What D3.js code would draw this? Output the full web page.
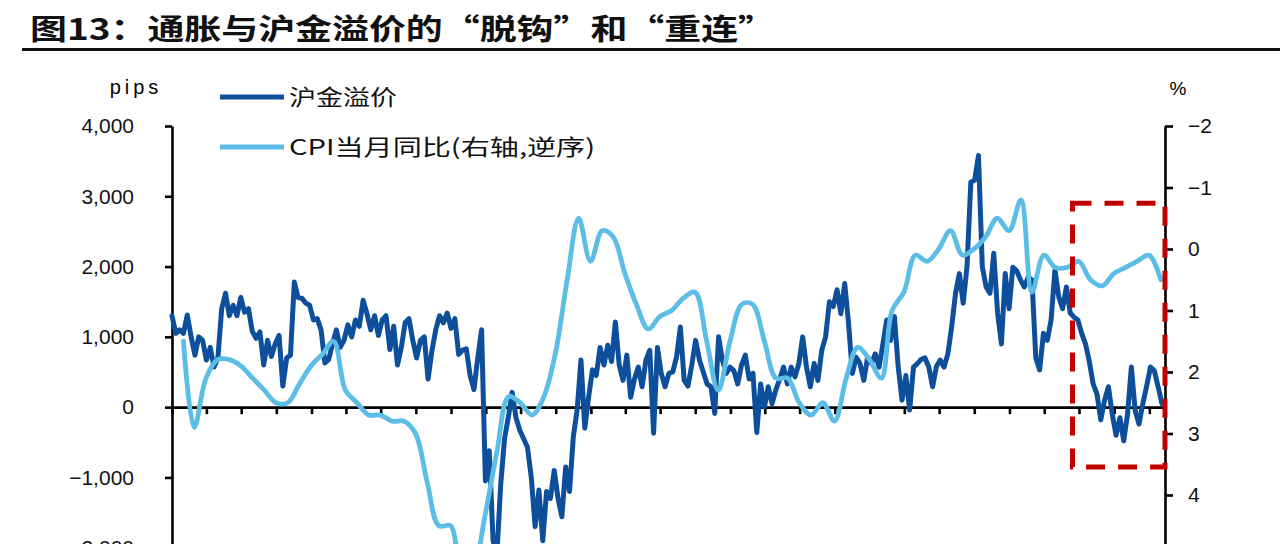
<!DOCTYPE html>
<html>
<head>
<meta charset="utf-8">
<script src="https://cdn.jsdelivr.net/npm/d3@7"></script>
<style>
  body { margin: 0; background: #fff; overflow: hidden; }
  svg { display: block; }
</style>
</head>
<body>
<div id="chart"></div>
<script>
// ---- data ----
const title = '图13：通胀与沪金溢价的“脱钩”和“重连”';
const seriesNames = ['沪金溢价', 'CPI当月同比(右轴,逆序)'];

// 沪金溢价 (pips), one reading every 10 days from 2018-01-01
const premiumStart = '2018-01-01';
const premiumStepDays = 10;
const premium = [
  1300, 1050, 1100, 1050, 1310, 1000, 740, 1000, 950, 670,
  850, 570, 700, 1400, 1620, 1300, 1450, 1300, 1560, 1350,
  1400, 1080, 980, 1070, 600, 950, 720, 900, 1020, 300,
  700, 740, 1780, 1560, 1550, 1480, 1450, 1240, 1260, 1100,
  630, 680, 900, 1100, 850, 950, 1170, 1000, 1240, 1150,
  1520, 1330, 1100, 1300, 1020, 1240, 1300, 820, 1150, 600,
  850, 1200, 1260, 950, 700, 950, 1000, 400, 800, 1100,
  1300, 1200, 1340, 1120, 1260, 750, 810, 830, 450, 250,
  700, 1100, -1050, -620, -1900, -2100, -1100, -450, -140, 210,
  -150, -330, -450, -570, -1000, -1700, -1180, -1900, -1200, -1300,
  -900, -1300, -1560, -850, -1200, -420, -40, 670, -300, 140,
  530, 450, 850, 600, 880, 650, 1210, 600, 380, 740,
  140, 400, 570, 290, 670, 810, -370, 850, 480, 290,
  480, 500, 710, 1140, 380, 300, 600, 950, 670, 500,
  330, 290, -90, 1000, 670, 480, 570, 520, 330, 600,
  740, 400, 480, -360, 330, 0, 290, 50, 250, 400,
  570, 330, 570, 430, 620, 1000, 570, 290, 620, 380,
  810, 1000, 1500, 1430, 1670, 1330, 1760, 1200, 480, 710,
  620, 380, 710, 620, 760, 570, 900, 1240, 950, 1290,
  570, 100, 450, -40, 570, 620, 680, 700, 570, 290,
  580, 670, 570, 760, 1150, 1620, 1900, 1480, 2000, 3200,
  3230, 3580, 2000, 1710, 1620, 2190, 1340, 900, 1900, 1400,
  1990, 1940, 1810, 1710, 1850, 1810, 700, 530, 1050, 950,
  1240, 1950, 1570, 1400, 1710, 1340, 1280, 1240, 1050, 900,
  650, 330, 190, -180, 100, 290, -100, -400, -150, -480,
  -100, 570, -50, -240, 50, 300, 570, 520, 290, 50
];

// CPI 当月同比 (%), monthly from 2018-01, plotted at month end
const cpiStartYear = 2018;
const cpi = [
  1.5, 2.9, 2.1, 1.8, 1.8, 1.9, 2.1, 2.3, 2.5, 2.5, 2.2, 1.9,
  1.7, 1.5, 2.3, 2.5, 2.7, 2.7, 2.8, 2.8, 3.0, 3.8, 4.5, 4.5,
  5.4, 5.2, 4.3, 3.3, 2.4, 2.5, 2.7, 2.4, 1.7, 0.5, -0.5, 0.2,
  -0.3, -0.2, 0.4, 0.9, 1.3, 1.1, 1.0, 0.8, 0.7, 1.5, 2.3, 1.5,
  0.9, 0.9, 1.5, 2.1, 2.1, 2.5, 2.7, 2.5, 2.8, 2.1, 1.6, 1.8,
  2.1, 1.0, 0.7, 0.1, 0.2, 0.0, -0.3, 0.1, 0.0, -0.2, -0.5, -0.3,
  -0.8, 0.7, 0.1, 0.3, 0.3, 0.2, 0.5, 0.6, 0.4, 0.3, 0.2, 0.1,
  0.5
];

const xDomain = ['2018-01-01', '2025-02-11'];
const leftTicks = [-2000, -1000, 0, 1000, 2000, 3000, 4000];
const rightTicks = [-2, -1, 0, 1, 2, 3, 4];

// highlighted "重连" window
const boxStart = '2024-06-14';
const boxTop = 2900;
const boxBottom = -850;

// ---- chart ----
const width = 1280, height = 544;
const darkBlue = '#0e4f9b';
const lightBlue = '#5cbde6';
const tickFont = '"Liberation Sans", Arial, sans-serif';
const cjkFont = '"Noto Sans CJK SC", sans-serif';

const parseDay = d3.timeParse('%Y-%m-%d');

const svg = d3.select('#chart')
  .append('svg')
  .attr('width', width)
  .attr('height', height);

const x = d3.scaleTime()
  .domain(xDomain.map(parseDay))
  .range([172, 1165]);

const yLeft = d3.scaleLinear()
  .domain([-3000, 4000])
  .range([618, 126]);

const yRight = d3.scaleLinear()
  .domain([-2, 6])
  .range([126, 618]);

// title
svg.append('text')
  .attr('x', 30)
  .attr('y', 40)
  .attr('font-family', cjkFont)
  .attr('font-weight', 700)
  .attr('font-size', 29)
  .attr('textLength', 745)
  .attr('lengthAdjust', 'spacingAndGlyphs')
  .attr('fill', '#111')
  .text(title);

svg.append('line')
  .attr('x1', 22).attr('x2', width)
  .attr('y1', 49.5).attr('y2', 49.5)
  .attr('stroke', '#111')
  .attr('stroke-width', 3);

// unit labels
svg.append('text')
  .attr('x', 136).attr('y', 94)
  .attr('text-anchor', 'middle')
  .attr('font-family', tickFont)
  .attr('font-size', 20)
  .attr('letter-spacing', 4)
  .text('pips');

svg.append('text')
  .attr('x', 1178).attr('y', 95)
  .attr('text-anchor', 'middle')
  .attr('font-family', tickFont)
  .attr('font-size', 19)
  .text('%');

// axes
const fmtLeft = d3.format(',');
const fmtRight = d3.format('d');

const gLeft = svg.append('g')
  .attr('transform', 'translate(172,0)')
  .call(d3.axisLeft(yLeft)
    .tickValues(leftTicks)
    .tickFormat(fmtLeft)
    .tickSizeInner(7)
    .tickSizeOuter(0)
    .tickPadding(31));

const gRight = svg.append('g')
  .attr('transform', 'translate(1165,0)')
  .call(d3.axisRight(yRight)
    .tickValues(rightTicks)
    .tickFormat(fmtRight)
    .tickSizeInner(8)
    .tickSizeOuter(0)
    .tickPadding(15));

const gBottom = svg.append('g')
  .attr('transform', `translate(0,${yLeft(0)})`)
  .call(d3.axisBottom(x)
    .ticks(d3.timeMonth.every(3))
    .tickFormat('')
    .tickSizeInner(7)
    .tickSizeOuter(0));

[gLeft, gRight, gBottom].forEach(g => {
  g.selectAll('.domain, .tick line')
    .attr('stroke', '#000')
    .attr('stroke-width', 2.6);
  g.selectAll('.tick text')
    .attr('font-family', tickFont)
    .attr('font-size', 21)
    .attr('fill', '#111');
});

// series
const premiumData = premium.map((v, i) => ({
  date: d3.timeDay.offset(parseDay(premiumStart), i * premiumStepDays),
  value: v
}));

const cpiData = cpi.map((v, i) => ({
  date: new Date(cpiStartYear, i + 1, 0),
  value: v
}));

const premiumLine = d3.line()
  .x(d => x(d.date))
  .y(d => yLeft(d.value));

const cpiLine = d3.line()
  .x(d => x(d.date))
  .y(d => yRight(d.value))
  .curve(d3.curveCatmullRom.alpha(0.5));

svg.append('path')
  .datum(premiumData)
  .attr('d', premiumLine)
  .attr('fill', 'none')
  .attr('stroke', darkBlue)
  .attr('stroke-width', 5)
  .attr('stroke-linejoin', 'round')
  .attr('stroke-linecap', 'round');

svg.append('path')
  .datum(cpiData)
  .attr('d', cpiLine)
  .attr('fill', 'none')
  .attr('stroke', lightBlue)
  .attr('stroke-width', 4.8)
  .attr('stroke-linejoin', 'round')
  .attr('stroke-linecap', 'round');

// dashed highlight box
const bx = x(parseDay(boxStart));
const bx2 = x.range()[1];
svg.append('rect')
  .attr('x', bx)
  .attr('y', yLeft(boxTop))
  .attr('width', bx2 - bx)
  .attr('height', yLeft(boxBottom) - yLeft(boxTop))
  .attr('fill', 'none')
  .attr('stroke', '#c00000')
  .attr('stroke-width', 5)
  .attr('stroke-dasharray', '19,13');

// legend
const legend = svg.append('g');
const legendRows = [
  { name: seriesNames[0], color: darkBlue, y: 97, len: 108 },
  { name: seriesNames[1], color: lightBlue, y: 147, len: 306 }
];
legendRows.forEach(r => {
  legend.append('line')
    .attr('x1', 220).attr('x2', 284)
    .attr('y1', r.y).attr('y2', r.y)
    .attr('stroke', r.color)
    .attr('stroke-width', 5);
  legend.append('text')
    .attr('x', 289)
    .attr('y', r.y + 8)
    .attr('font-family', cjkFont)
    .attr('font-size', 22)
    .attr('textLength', r.len)
    .attr('lengthAdjust', 'spacingAndGlyphs')
    .attr('fill', '#111')
    .text(r.name);
});
</script>
</body>
</html>
